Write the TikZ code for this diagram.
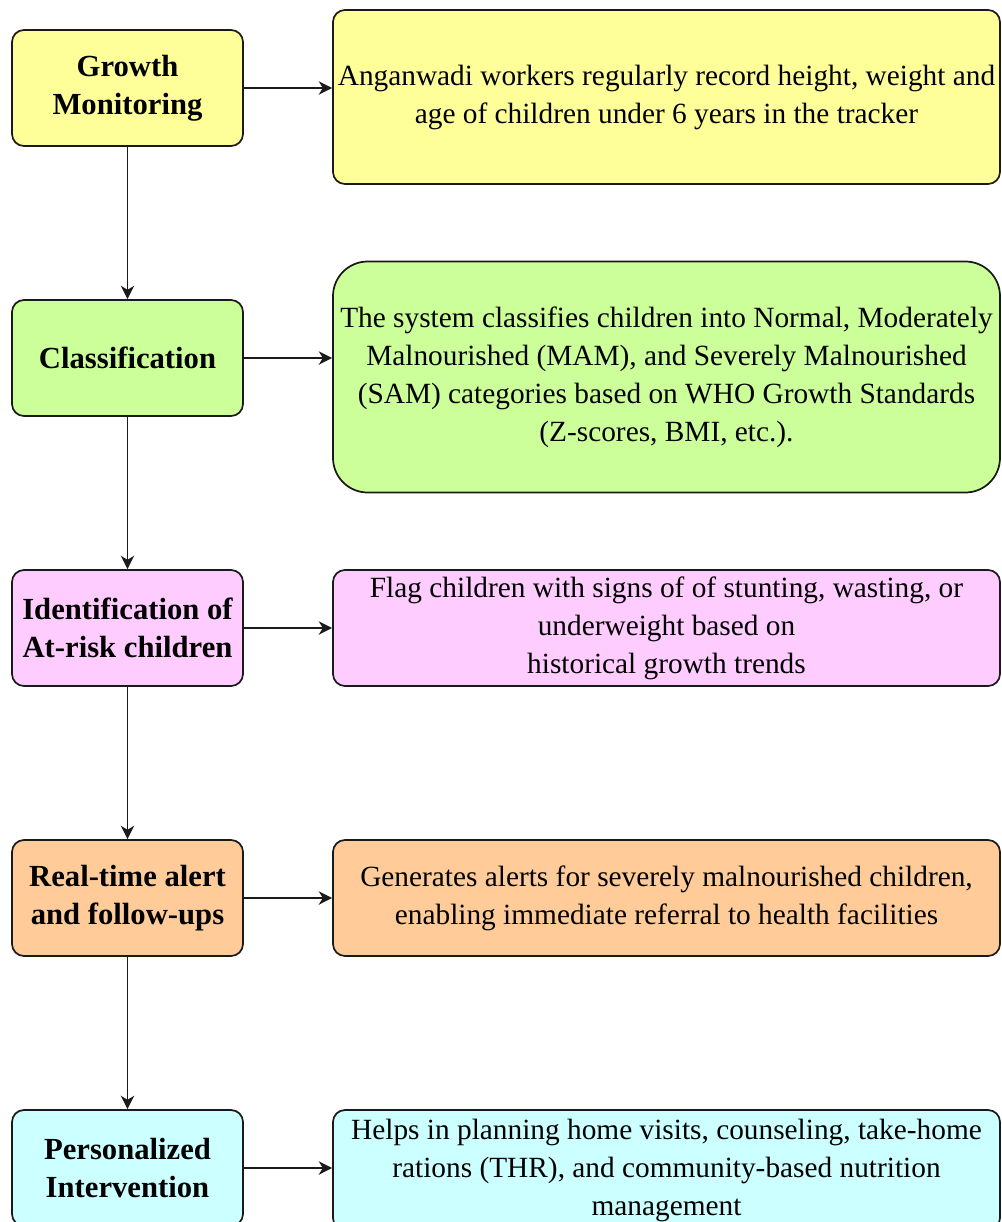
\documentclass[tikz,border=0pt]{standalone}
\usepackage{fontspec}
\setmainfont{Liberation Serif}
\usetikzlibrary{arrows.meta}
\definecolor{cyel}{HTML}{FFFF99}
\definecolor{cgrn}{HTML}{CCFF99}
\definecolor{cpnk}{HTML}{FFCCFF}
\definecolor{corg}{HTML}{FFCC99}
\definecolor{ccyn}{HTML}{CCFFFF}
\definecolor{cline}{HTML}{1A1A1A}
\begin{document}
\begin{tikzpicture}[x=0.75pt,y=-0.75pt,
  base/.style={draw=cline, line width=1.3pt, rounded corners=9pt, align=center, inner sep=0pt},
  leftbox/.style={base, minimum width=173.25pt, minimum height=87pt, font=\fontsize{23}{28.5}\selectfont\bfseries},
  rightbox/.style={base, minimum width=500.25pt, font=\fontsize{22}{28.5}\selectfont},
  conn/.style={draw=cline, line width=1.4pt, -{Stealth[length=10pt,width=10pt,inset=3pt]}}
]
\useasboundingbox (0,0) rectangle (1002,1222);
\clip (0,0) rectangle (1002,1222);
\fill[white] (0,0) rectangle (1002,1222);

\node[leftbox, fill=cyel] (L1) at (127.5,88) {Growth\\Monitoring};
\node[leftbox, fill=cgrn] (L2) at (127.5,358) {Classification};
\node[leftbox, fill=cpnk] (L3) at (127.5,628) {Identification of\\At-risk children};
\node[leftbox, fill=corg] (L4) at (127.5,898) {Real-time alert\\and follow-ups};
\node[leftbox, fill=ccyn] (L5) at (127.5,1168) {Personalized\\Intervention};

\node[rightbox, fill=cyel, minimum height=130.5pt] (R1) at (666.5,97) {Anganwadi workers regularly record height, weight and\\age of\ children under 6 years in the tracker};
\node[rightbox, fill=cgrn, minimum height=173.25pt, rounded corners=26pt] (R2) at (666.5,377) {The system classifies children into Normal, Moderately\\Malnourished (MAM), and Severely Malnourished\\(SAM) categories based on WHO Growth Standards\\(Z-scores, BMI, etc.).};
\node[rightbox, fill=cpnk, minimum height=87pt] (R3) at (666.5,628) {Flag children with signs of of\ stunting, wasting, or\\underweight based on\\historical growth trends};
\node[rightbox, fill=corg, minimum height=87pt] (R4) at (666.5,898) {Generates alerts for severely malnourished children,\\enabling immediate referral to health facilities};
\node[rightbox, fill=ccyn, minimum height=90pt] (R5) at (666.5,1170) {Helps in planning home visits, counseling, take-home\\rations (THR), and community-based nutrition\\management};

\draw[conn] (L1) -- (L2);
\draw[conn] (L2) -- (L3);
\draw[conn] (L3) -- (L4);
\draw[conn] (L4) -- (L5);

\draw[conn] (L1.east) -- (L1.east -| R1.west);
\draw[conn] (L2.east) -- (L2.east -| R2.west);
\draw[conn] (L3.east) -- (L3.east -| R3.west);
\draw[conn] (L4.east) -- (L4.east -| R4.west);
\draw[conn] (L5.east) -- (L5.east -| R5.west);
\end{tikzpicture}
\end{document}
